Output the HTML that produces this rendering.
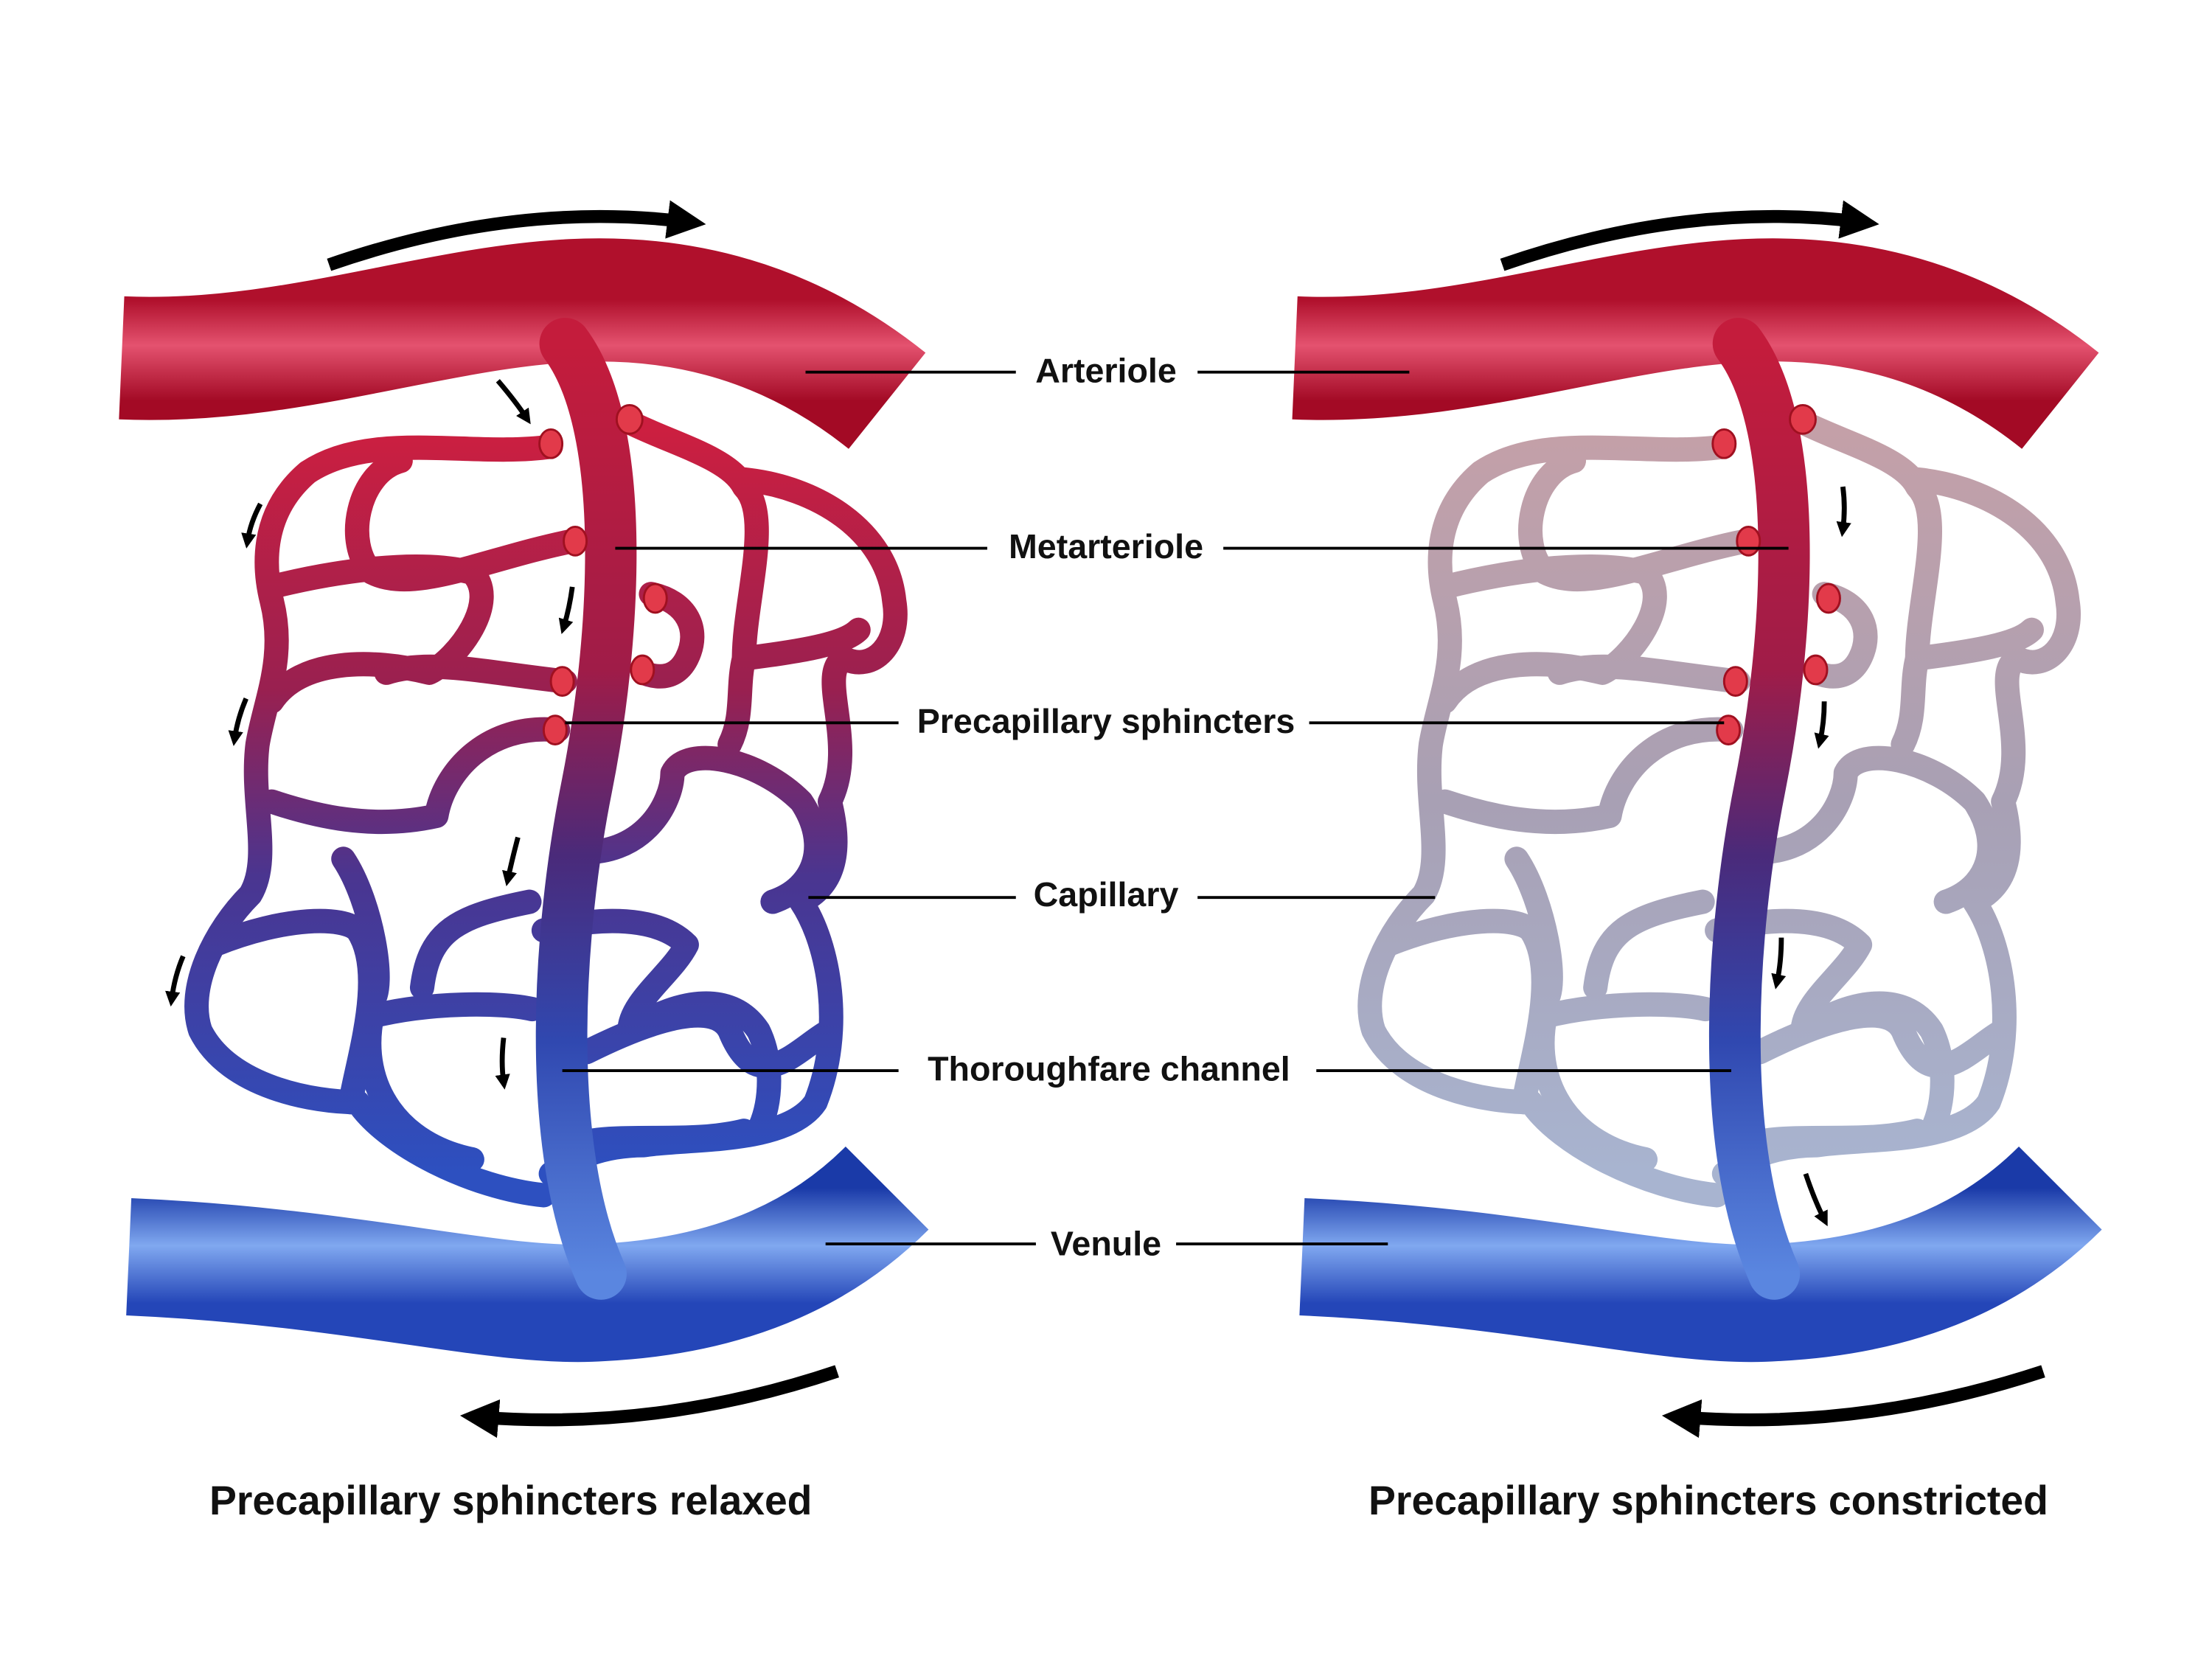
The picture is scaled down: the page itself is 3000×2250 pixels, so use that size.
<!DOCTYPE html>
<html><head><meta charset="utf-8"><style>
html,body{margin:0;padding:0;background:#fff}
svg{display:block}
text{font-family:"Liberation Sans",sans-serif;font-weight:bold;fill:#111}
</style></head><body>
<svg width="3000" height="2250" viewBox="0 0 1546 1159" preserveAspectRatio="none" xmlns="http://www.w3.org/2000/svg">
<defs>
<linearGradient id="art" x1="0" y1="0" x2="0" y2="1">
<stop offset="0" stop-color="#b0102c"/><stop offset="0.45" stop-color="#e4526f"/><stop offset="1" stop-color="#a30a25"/></linearGradient>
<linearGradient id="ven" x1="0" y1="0" x2="0" y2="1">
<stop offset="0" stop-color="#1a3aa8"/><stop offset="0.5" stop-color="#80a8f0"/><stop offset="1" stop-color="#2446b8"/></linearGradient>
<linearGradient id="met" gradientUnits="userSpaceOnUse" x1="0" y1="240" x2="0" y2="890">
<stop offset="0" stop-color="#c41c3c"/><stop offset="0.35" stop-color="#a01c48"/><stop offset="0.55" stop-color="#4a2a7a"/><stop offset="0.75" stop-color="#3048b0"/><stop offset="1" stop-color="#5a86e0"/></linearGradient>
<linearGradient id="cap" gradientUnits="userSpaceOnUse" x1="0" y1="300" x2="0" y2="820">
<stop offset="0" stop-color="#cc1f40"/><stop offset="0.35" stop-color="#992050"/><stop offset="0.6" stop-color="#4a3590"/><stop offset="1" stop-color="#2d50c0"/></linearGradient>
<linearGradient id="capf" gradientUnits="userSpaceOnUse" x1="0" y1="300" x2="0" y2="820">
<stop offset="0" stop-color="#c4a0a8"/><stop offset="0.5" stop-color="#a8a0b4"/><stop offset="1" stop-color="#a8b4d0"/></linearGradient>
<g id="caps" fill="none" stroke-width="17" stroke-linecap="round" stroke-linejoin="round">
<path d="M385,312 C330,320 260,300 215,330 C180,360 185,400 190,420 C200,460 185,490 180,520 C175,560 190,600 175,625 C150,650 130,690 140,720 C160,760 220,770 250,770 C270,800 330,830 380,835"/>
<path d="M400,378 C340,390 290,415 260,400 C240,380 250,330 280,322"/>
<path d="M190,410 C230,400 290,390 330,400 C350,420 320,460 300,470 C260,460 210,460 190,490"/>
<path d="M395,476 C340,470 300,460 270,470"/>
<path d="M390,510 C340,505 310,540 305,570 C260,580 220,570 190,560"/>
<path d="M150,660 C200,640 240,640 250,650 C270,680 250,740 245,770"/>
<path d="M240,600 C260,630 270,690 260,700"/>
<path d="M295,690 C300,650 320,640 370,630"/>
<path d="M440,295 C470,310 510,320 520,340 C540,360 520,420 520,460 C515,480 520,500 510,520"/>
<path d="M520,335 C570,340 620,370 625,420 C630,450 610,470 590,460 C570,470 600,520 580,560 C590,600 580,620 560,630 C580,660 590,720 570,770 C550,800 480,795 450,800 C420,800 400,810 385,820"/>
<path d="M455,415 C480,420 490,440 480,460 C470,480 450,470 450,470"/>
<path d="M520,460 C560,455 590,450 600,440"/>
<path d="M400,595 C450,600 470,560 470,540 C480,520 530,530 560,560 C580,590 570,620 540,630"/>
<path d="M380,650 C420,640 460,640 480,660 C470,680 440,700 440,720 C470,700 510,690 530,720 C540,740 540,770 530,790"/>
<path d="M260,710 C300,700 350,700 372,705"/>
<path d="M410,735 C460,710 500,700 510,720 C530,770 560,730 580,720"/>
<path d="M260,710 C250,760 280,800 330,810"/>
<path d="M400,800 C430,790 480,800 520,790"/>
</g>
<g id="vessels">
<path d="M85,250 C200,255 300,215 400,210 C500,205 570,240 620,280" fill="none" stroke="url(#art)" stroke-width="86"/>
<path d="M90,878 C250,885 350,915 420,910 C520,905 580,870 620,830" fill="none" stroke="url(#ven)" stroke-width="82"/>
<path d="M395,240 C440,300 430,450 410,550 C390,650 380,800 420,890" fill="none" stroke="url(#met)" stroke-width="36" stroke-linecap="round"/>
</g>
<g id="sph" fill="#e23a4a" stroke="#a01020" stroke-width="1.5">
<ellipse cx="385" cy="310" rx="8" ry="10"/><ellipse cx="440" cy="293" rx="9" ry="10"/>
<ellipse cx="402" cy="378" rx="8" ry="10"/><ellipse cx="458" cy="418" rx="8" ry="10"/>
<ellipse cx="393" cy="476" rx="8" ry="10"/><ellipse cx="449" cy="468" rx="8" ry="10"/>
<ellipse cx="388" cy="510" rx="8" ry="10"/>
</g>
<marker id="ah" viewBox="0 0 10 10" refX="5" refY="5" markerWidth="3" markerHeight="3" orient="auto"><path d="M0,0 L10,5 L0,10 z" fill="#000"/></marker>
<marker id="sah" viewBox="0 0 10 10" refX="5" refY="5" markerWidth="3" markerHeight="3" orient="auto"><path d="M0,0 L10,5 L0,10 z" fill="#000"/></marker>
</defs>

<use href="#caps" stroke="url(#cap)"/>
<use href="#vessels"/>
<use href="#sph"/>
<path d="M230,185 Q360,140 480,155" fill="none" stroke="#000" stroke-width="9" marker-end="url(#ah)"/>
<path d="M585,958 Q460,1000 335,990" fill="none" stroke="#000" stroke-width="9" marker-end="url(#ah)"/>
<g fill="none" stroke="#000" stroke-width="3.5" marker-end="url(#sah)">
<path d="M348,266 Q360,280 368,292"/><path d="M182,352 Q175,365 173,378"/>
<path d="M400,410 Q398,425 394,438"/><path d="M172,488 Q166,502 164,516"/>
<path d="M362,585 Q358,600 355,614"/><path d="M128,668 Q122,682 120,698"/>
<path d="M352,725 Q350,742 352,756"/>
</g>

<g transform="translate(820,0)">
<use href="#caps" stroke="url(#capf)"/>
<use href="#vessels"/>
<use href="#sph"/>
<path d="M230,185 Q360,140 480,155" fill="none" stroke="#000" stroke-width="9" marker-end="url(#ah)"/>
<path d="M608,958 Q480,1000 355,990" fill="none" stroke="#000" stroke-width="9" marker-end="url(#ah)"/>
<g fill="none" stroke="#000" stroke-width="3.5" marker-end="url(#sah)">
<path d="M468,340 Q470,355 468,370"/><path d="M455,490 Q455,505 452,518"/>
<path d="M425,655 Q425,672 422,686"/><path d="M442,820 Q448,838 455,852"/>
</g>
</g>

<g stroke="#000" stroke-width="2">
<line x1="563" y1="260" x2="710" y2="260"/><line x1="837" y1="260" x2="985" y2="260"/>
<line x1="430" y1="383" x2="690" y2="383"/><line x1="855" y1="383" x2="1250" y2="383"/>
<line x1="395" y1="505" x2="628" y2="505"/><line x1="915" y1="505" x2="1205" y2="505"/>
<line x1="565" y1="627" x2="710" y2="627"/><line x1="837" y1="627" x2="1003" y2="627"/>
<line x1="393" y1="748" x2="628" y2="748"/><line x1="920" y1="748" x2="1210" y2="748"/>
<line x1="577" y1="869" x2="724" y2="869"/><line x1="822" y1="869" x2="970" y2="869"/>
</g>
<g font-size="24" text-anchor="middle">
<text x="773" y="267">Arteriole</text>
<text x="773" y="390">Metarteriole</text>
<text x="773" y="512">Precapillary sphincters</text>
<text x="773" y="633">Capillary</text>
<text x="775" y="755">Thoroughfare channel</text>
<text x="773" y="877">Venule</text>
</g>
<g font-size="28.5" text-anchor="middle">
<text x="357" y="1058">Precapillary sphincters relaxed</text>
<text x="1194" y="1058">Precapillary sphincters constricted</text>
</g>
</svg>
</body></html>
